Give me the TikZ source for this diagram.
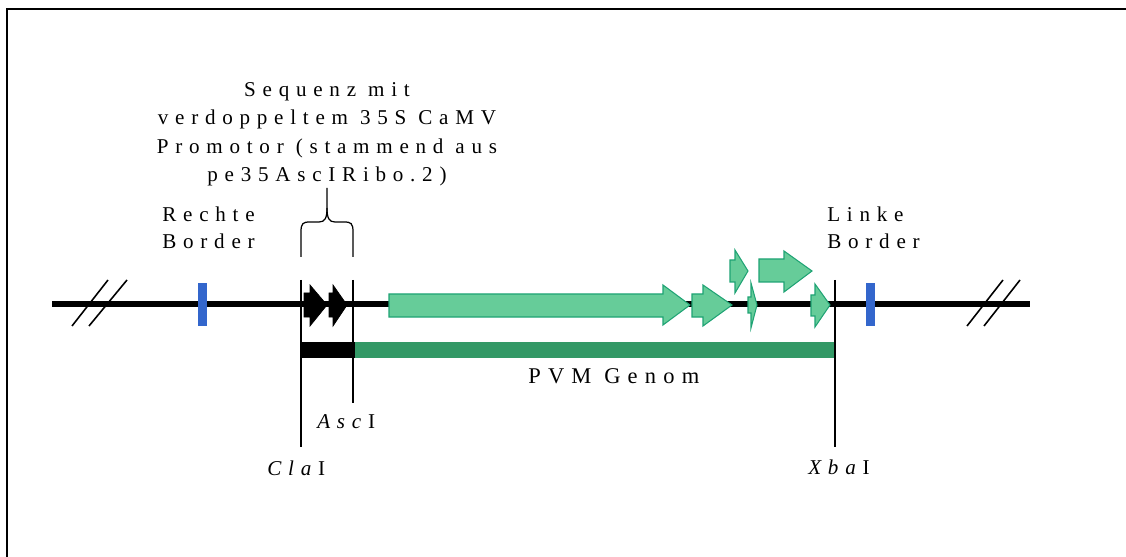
\documentclass[tikz,border=0pt]{standalone}
\usepackage{fontspec}
\setmainfont{Liberation Serif}[LetterSpace=32]
\definecolor{blau}{HTML}{3366CC}
\definecolor{hellgruen}{HTML}{66CC99}
\definecolor{gruenrand}{HTML}{1FA374}
\definecolor{dunkelgruen}{HTML}{339966}
\tikzset{
  rahmen/.style   = {line width=1.2pt},
  linie/.style    = {line width=3.8pt},
  bruch/.style    = {line width=0.9pt},
  schnitt/.style  = {line width=0.6pt},
  klammer/.style  = {line width=0.7pt},
  grenze/.style   = {fill=blau},
  gen/.style      = {fill=hellgruen, draw=gruenrand, line width=0.6pt},
  promotor/.style = {fill=black},
  schrift/.style  = {inner sep=0pt, font=\fontsize{12}{16.3}\selectfont},
  rand/.style     = {schrift, align=left, font=\fontsize{12}{15.2}\selectfont}
}
\begin{document}
\begin{tikzpicture}[x=0.02cm, y=-0.02cm]
    \useasboundingbox (0,0) rectangle (1126,557);
    \draw[rahmen] (1126,8.7) -- (7,8.7) -- (7,557);

    % Hauptlinie
    \coordinate (anfang) at (52,304);
    \coordinate (ende) at (1030,304);
    \draw[linie] (anfang) -- (ende);
    \draw[bruch] (72,326) -- (108,280);
    \draw[bruch] (89,326) -- (127,280);
    \draw[bruch] (967,326) -- (1003,280);
    \draw[bruch] (984,326) -- (1020,280);

    % Borders
    \fill[grenze] (198,283) rectangle (207,326);
    \fill[grenze] (866,283) rectangle (875,326);

    % Genom-Balken
    \fill[promotor] (301,342) rectangle (355,357.5);
    \fill[dunkelgruen] (355,342) rectangle (835,357.5);

    % Schnittstellen
    \coordinate (claoben) at (301,280);
    \coordinate (claunten) at (301,447);
    \coordinate (ascoben) at (353,280);
    \coordinate (ascunten) at (353,403);
    \coordinate (xbaoben) at (835,280);
    \coordinate (xbaunten) at (835,447);
    \draw[schnitt] (claoben) -- (claunten);
    \draw[schnitt] (ascoben) -- (ascunten);
    \draw[schnitt] (xbaoben) -- (xbaunten);

    % Promotor-Pfeile
    \draw[promotor] (304,293) -- (310,293) -- (310,285) -- (327,305) -- (310,326) -- (310,317) -- (304,317) -- cycle;
    \draw[promotor] (329,293) -- (333,293) -- (333,285) -- (347,305) -- (333,326) -- (333,317) -- (329,317) -- cycle;

    % Gene
    \draw[gen] (389,294) -- (663,294) -- (663,285) -- (690,305) -- (663,325) -- (663,317) -- (389,317) -- cycle;
    \draw[gen] (692,294) -- (703,294) -- (703,285) -- (732,305) -- (703,326) -- (703,317) -- (692,317) -- cycle;
    \draw[gen] (748,297) -- (751,297) -- (751,283) -- (757,305) -- (751,328) -- (751,313) -- (748,313) -- cycle;
    \draw[gen] (730,260) -- (735,260) -- (735,250) -- (748,271) -- (735,293) -- (735,282) -- (730,282) -- cycle;
    \draw[gen] (759,259) -- (784,259) -- (784,251) -- (812,271) -- (784,292) -- (784,282) -- (759,282) -- cycle;
    \draw[gen] (811,295) -- (815,295) -- (815,284) -- (830,305) -- (815,327) -- (815,316) -- (811,316) -- cycle;

    % Klammer
    \coordinate (spitze) at (327,188);
    \draw[klammer] (301,257) -- (301,232) .. controls (301,223) and (303,222) .. (310,222) -- (319,222) .. controls (325,222) and (327,218) .. (327,208) -- (spitze);
    \draw[klammer] (353,257) -- (353,232) .. controls (353,223) and (351,222) .. (344,222) -- (335,222) .. controls (329,222) and (327,218) .. (327,208);

    % Beschriftungen (base = letzte Zeile)
    \node[schrift, align=center, anchor=base] (sequenz) at (327,182) {Sequenz mit\\verdoppeltem 35S CaMV\\Promotor (stammend aus\\pe35AscIRibo.2)};
    \node[rand, anchor=base west] (rechts) at (162,248.3) {Rechte\\Border};
    \node[rand, anchor=base west] (links) at (827,248.3) {Linke\\Border};
    \node[schrift, anchor=base west, font=\fontsize{12.8}{15}\selectfont] (genom) at (528,383) {PVM Genom};
    \node[schrift, anchor=base west] (asc) at (317,428) {\textit{Asc}I};
    \node[schrift, anchor=base west] (cla) at (267,475) {\textit{Cla}I};
    \node[schrift, anchor=base west] (xba) at (808,474) {\textit{Xba}I};
\end{tikzpicture}
\end{document}
